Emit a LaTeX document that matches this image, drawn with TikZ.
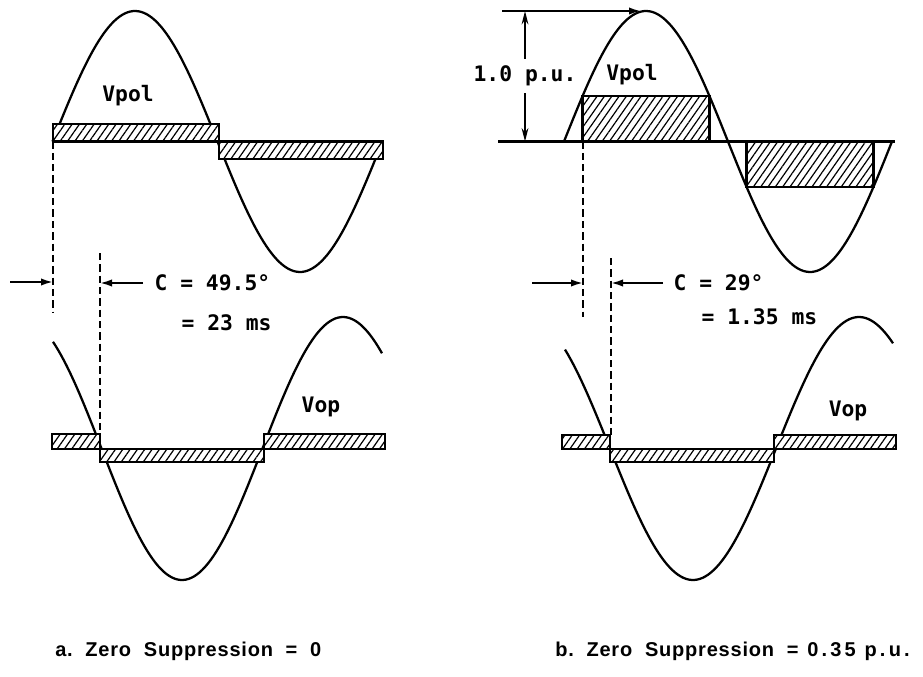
\documentclass[tikz,border=0pt]{standalone}
\usepackage{fontspec}
\newfontfamily\plotfont{DejaVu Sans Mono}
\newfontfamily\capfont[LetterSpace=4]{Liberation Sans}
\usetikzlibrary{arrows.meta, patterns.meta}

\begin{document}
\begin{tikzpicture}[
        x=0.75pt, y=-0.75pt,
        font=\plotfont\fontsize{16}{18}\selectfont\bfseries,
        % Estilos de las curvas y bandas
        wave/.style={line width=1.7pt, line join=round},
        band/.style={
            draw,
            line width=1.9pt,
            fill=white,
            postaction={pattern={Lines[angle=55, distance=4.5pt, line width=0.9pt]}}
        },
        baseline/.style={line width=1.7pt},
        guide/.style={line width=1.8pt, dash pattern=on 5.5pt off 3pt},
        % Estilos de las flechas
        arrow/.style={-{Latex[length=9pt, width=5.5pt]}, line width=1.4pt},
        dimarrow/.style={{Stealth[length=10pt, width=5pt]}-{Stealth[length=10pt, width=5pt]}, line width=1.7pt},
        tag/.style={inner sep=1pt},
        caption/.style={font=\capfont\fontsize{15}{17}\selectfont\bfseries, anchor=west, inner sep=0pt}
    ]
    \useasboundingbox (0,0) rectangle (923,677);

    % -- Caso a: Vpol --
    \draw[wave] plot[domain=52.5:382.5, samples=120, smooth] (\x, {141.5-130.5*sin((\x-52.5)/165*180)});
    \draw[band] (53,124) rectangle (219,141.5);
    \draw[band] (219,141.5) rectangle (383,159);
    \node[tag] (vpolA) at (128,96) {Vpol};

    % -- Caso a: Vop --
    \draw[wave] plot[domain=53:382, samples=120, smooth] (\x, {448.5+131.5*sin((\x-101.5)/161*180)});
    \draw[band] (52,434) rectangle (100,449);
    \draw[band] (100,449) rectangle (264,462);
    \draw[band] (264,434) rectangle (385,449);
    \node[tag] (vopA) at (321,407) {Vop};

    % -- Caso a: angulo C --
    \coordinate (polZeroA) at (53,141.5);
    \coordinate (polEndA) at (53,312);
    \coordinate (opTopA) at (100,253);
    \coordinate (opZeroA) at (100,434);
    \draw[guide] (polZeroA) -- (polEndA);
    \draw[guide] (opTopA) -- (opZeroA);
    \coordinate (inA) at (10,282);
    \coordinate (inTipA) at (53,282);
    \coordinate (outA) at (143,283);
    \coordinate (outTipA) at (100,283);
    \draw[arrow] (inA) -- (inTipA);
    \draw[arrow] (outA) -- (outTipA);
    \node[tag, anchor=west] (angA) at (153,283) {C = 49.5°};
    \node[tag, anchor=west] (timeA) at (180,323) {= 23 ms};

    % -- Caso b: Vpol --
    \draw[wave] plot[domain=564:892, samples=120, smooth] (\x, {141.5-130.5*sin((\x-564)/164*180)});
    \coordinate (baseL) at (498,141.5);
    \coordinate (baseR) at (895,141.5);
    \draw[baseline] (baseL) -- (baseR);
    \draw[band] (582.7,95.8) rectangle (709.3,141.5);
    \draw[band] (746.7,141.5) rectangle (873.3,187.2);
    \node[tag] (vpolB) at (632,75) {Vpol};

    % cota de 1.0 p.u.
    \coordinate (peakL) at (502,11);
    \coordinate (peakB) at (641,11);
    \draw[arrow] (peakL) -- (peakB);
    \coordinate (dimTop) at (525,11);
    \coordinate (dimBot) at (525,141.5);
    \draw[dimarrow] (dimTop) -- node[tag, fill=white, inner ysep=5pt] (puB) {1.0 p.u.} (dimBot);

    % -- Caso b: Vop --
    \draw[wave] plot[domain=565:893, samples=120, smooth] (\x, {448.5+131.5*sin((\x-610)/166*180)});
    \draw[band] (562,435) rectangle (610,449);
    \draw[band] (610,449) rectangle (774,462);
    \draw[band] (774,435) rectangle (896,449);
    \node[tag] (vopB) at (848,411) {Vop};

    % -- Caso b: angulo C --
    \coordinate (polZeroB) at (583,141.5);
    \coordinate (polEndB) at (583,317);
    \coordinate (opTopB) at (611,258);
    \coordinate (opZeroB) at (611,435);
    \draw[guide] (polZeroB) -- (polEndB);
    \draw[guide] (opTopB) -- (opZeroB);
    \coordinate (inB) at (532,283);
    \coordinate (inTipB) at (583,283);
    \coordinate (outB) at (663,283);
    \coordinate (outTipB) at (611,283);
    \draw[arrow] (inB) -- (inTipB);
    \draw[arrow] (outB) -- (outTipB);
    \node[tag, anchor=west] (angB) at (672,283) {C = 29°};
    \node[tag, anchor=west] (timeB) at (700,317) {= 1.35 ms};

    % -- Leyendas --
    \node[caption] (capA) at (55,651) {a.\ \ Zero\ \ Suppression\ \ =\ \ 0};
    \node[caption] (capB) at (555,651) {b.\ \ Zero\ \ Suppression\ \ {\addfontfeature{LetterSpace=16}= 0.35 p.u.}};

\end{tikzpicture}
\end{document}
